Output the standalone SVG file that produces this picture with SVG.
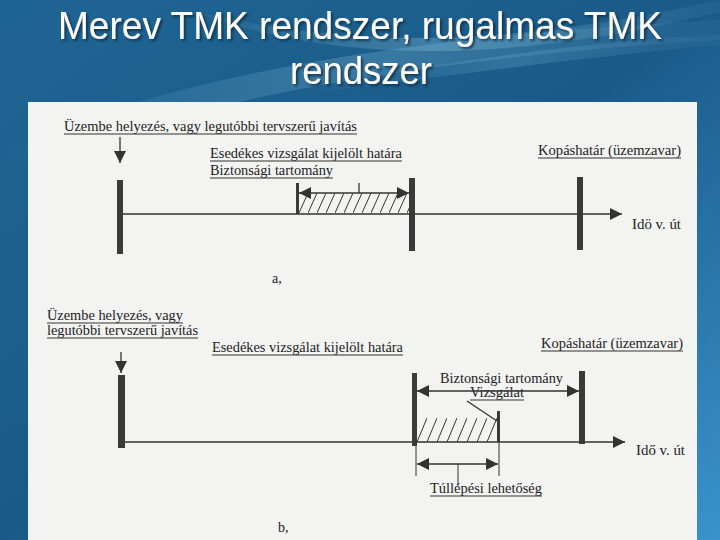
<svg xmlns="http://www.w3.org/2000/svg" width="720" height="540" viewBox="0 0 720 540">
<defs>
<linearGradient id="bg" x1="0" y1="0" x2="1" y2="1">
<stop offset="0" stop-color="#1f6593"/>
<stop offset="0.5" stop-color="#1a5a88"/>
<stop offset="1" stop-color="#3a93cc"/>
</linearGradient>
<linearGradient id="sw" x1="0" y1="0" x2="1" y2="0">
<stop offset="0" stop-color="#9fd8ef" stop-opacity="0"/>
<stop offset="0.5" stop-color="#9fd8ef" stop-opacity="0.45"/>
<stop offset="1" stop-color="#9fd8ef" stop-opacity="0.1"/>
</linearGradient>
<filter id="ts" x="-5%" y="-20%" width="110%" height="150%">
<feDropShadow dx="2" dy="2" stdDeviation="1.2" flood-color="#0b2a40" flood-opacity="0.8"/>
</filter>
<pattern id="hatchA" patternUnits="userSpaceOnUse" width="9" height="20" x="299" y="193">
<line x1="0" y1="20" x2="9" y2="0" stroke="#333" stroke-width="1"/>
</pattern>
<pattern id="hatchB" patternUnits="userSpaceOnUse" width="10" height="24" x="417" y="418">
<line x1="0" y1="24" x2="10" y2="0" stroke="#333" stroke-width="1"/>
</pattern>
<marker id="ah" viewBox="0 0 12 12" refX="12" refY="6" markerWidth="12" markerHeight="12" markerUnits="userSpaceOnUse" orient="auto-start-reverse">
<path d="M0,0 L12,6 L0,12 Z" fill="#333"/>
</marker>
</defs>
<style>
.t{font-family:"Liberation Serif","Times New Roman",serif;font-size:14px;fill:#222}
.u{stroke:#333;stroke-width:1}
.ln{stroke:#333;stroke-width:1.3;fill:none}
.bar{fill:#3a3a3a}
.title{font-family:"Liberation Sans",Arial,sans-serif;font-size:38px;fill:#ffffff;text-anchor:middle;filter:url(#ts)}
</style>

<!-- background -->
<rect x="0" y="0" width="720" height="540" fill="url(#bg)"/>
<path d="M0,150 C150,90 330,40 720,20 L720,40 C380,60 170,110 0,170 Z" fill="url(#sw)" opacity="0.5"/>
<path d="M150,0 C300,40 450,60 720,0 L720,12 C460,75 300,55 160,0 Z" fill="url(#sw)" opacity="0.6"/>
<path d="M300,90 C450,60 600,40 720,35 L720,45 C600,55 450,75 300,95 Z" fill="url(#sw)" opacity="0.4"/>

<!-- title -->
<g id="title">
<text class="title" x="360" y="39" textLength="604" lengthAdjust="spacingAndGlyphs">Merev TMK rendszer, rugalmas TMK</text>
<text class="title" x="361" y="84" textLength="142" lengthAdjust="spacingAndGlyphs">rendszer</text>
</g>

<!-- paper -->
<rect x="28" y="102" width="669" height="438" fill="#f3f3f2"/>

<!-- ===== diagram a ===== -->
<g id="a-label-start">
<text class="t" x="64" y="131" textLength="293" lengthAdjust="spacingAndGlyphs">Üzembe helyezés, vagy legutóbbi tervszerű javítás</text>
<line class="u" x1="64" y1="134" x2="357" y2="134"/>
</g>
<g id="a-label-due">
<text class="t" x="210" y="158" textLength="192" lengthAdjust="spacingAndGlyphs">Esedékes vizsgálat kijelölt határa</text>
<line class="u" x1="210" y1="161" x2="402" y2="161"/>
</g>
<g id="a-label-safety">
<text class="t" x="210" y="175" textLength="123" lengthAdjust="spacingAndGlyphs">Biztonsági tartomány</text>
<line class="u" x1="210" y1="178" x2="333" y2="178"/>
</g>
<g id="a-label-wear">
<text class="t" x="538" y="155" textLength="143" lengthAdjust="spacingAndGlyphs">Kopáshatár (üzemzavar)</text>
<line class="u" x1="538" y1="158" x2="681" y2="158"/>
</g>
<g id="a-label-time">
<text class="t" x="632" y="229" textLength="49" lengthAdjust="spacingAndGlyphs">Idö v. út</text>
</g>
<g id="a-caption">
<text class="t" x="272" y="283">a,</text>
</g>
<g id="a-bar-start"><rect class="bar" x="117" y="180" width="6" height="74"/></g>
<g id="a-bar-due"><rect class="bar" x="296" y="183" width="3" height="31"/></g>
<g id="a-hatch"><rect x="299" y="193" width="110" height="20" fill="url(#hatchA)"/></g>
<g id="a-bar-limit"><rect class="bar" x="409" y="178" width="6" height="73"/></g>
<g id="a-bar-wear"><rect class="bar" x="577" y="177" width="6" height="73"/></g>

<!-- ===== diagram b ===== -->
<g id="b-label-start">
<text class="t" x="47" y="320" textLength="136" lengthAdjust="spacingAndGlyphs">Üzembe helyezés, vagy</text>
<line class="u" x1="47" y1="323" x2="183" y2="323"/>
<text class="t" x="47" y="335" textLength="151" lengthAdjust="spacingAndGlyphs">legutóbbi tervszerű javítás</text>
<line class="u" x1="47" y1="338" x2="198" y2="338"/>
</g>
<g id="b-label-due">
<text class="t" x="212" y="352" textLength="191" lengthAdjust="spacingAndGlyphs">Esedékes vizsgálat kijelölt határa</text>
<line class="u" x1="212" y1="355" x2="403" y2="355"/>
</g>
<g id="b-label-wear">
<text class="t" x="541" y="348" textLength="142" lengthAdjust="spacingAndGlyphs">Kopáshatár (üzemzavar)</text>
<line class="u" x1="541" y1="351" x2="683" y2="351"/>
</g>
<g id="b-label-safety">
<text class="t" x="440" y="383" textLength="123" lengthAdjust="spacingAndGlyphs">Biztonsági tartomány</text>
</g>
<g id="b-label-insp">
<text class="t" x="470" y="397" textLength="54" lengthAdjust="spacingAndGlyphs">Vizsgálat</text>
<line class="u" x1="470" y1="400" x2="524" y2="400"/>
</g>
<g id="b-label-over">
<text class="t" x="430" y="493" textLength="112" lengthAdjust="spacingAndGlyphs">Túllépési lehetőség</text>
<line class="u" x1="430" y1="496" x2="542" y2="496"/>
</g>
<g id="b-label-time">
<text class="t" x="636" y="455" textLength="49" lengthAdjust="spacingAndGlyphs">Idő v. út</text>
</g>
<g id="b-caption">
<text class="t" x="278" y="532">b,</text>
</g>
<g id="b-bar-start"><rect class="bar" x="118" y="375" width="7" height="73"/></g>
<g id="b-bar-due"><rect class="bar" x="412" y="373" width="5" height="73"/></g>
<g id="b-hatch"><rect x="417" y="418" width="81" height="24" fill="url(#hatchB)"/></g>
<g id="b-bar-insp"><rect class="bar" x="497" y="411" width="3" height="31"/></g>
<g id="b-bar-wear"><rect class="bar" x="579" y="371" width="6" height="73"/></g>

<!-- connectors -->
<g id="connectors">
<!-- a -->
<line class="ln" x1="120" y1="137" x2="120" y2="163" marker-end="url(#ah)"/>
<line class="ln" x1="123" y1="214" x2="622" y2="214" marker-end="url(#ah)"/>
<line class="ln" x1="299" y1="193" x2="409" y2="193" marker-start="url(#ah)" marker-end="url(#ah)"/>
<line class="ln" x1="359" y1="183" x2="359" y2="193"/>
<!-- b -->
<line class="ln" x1="121" y1="352" x2="121" y2="373" marker-end="url(#ah)"/>
<line class="ln" x1="125" y1="442" x2="625" y2="442" marker-end="url(#ah)"/>
<line class="ln" x1="417" y1="391" x2="579" y2="391" marker-start="url(#ah)" marker-end="url(#ah)"/>
<line class="ln" x1="467" y1="401" x2="497" y2="421"/>
<line class="u" x1="416" y1="446" x2="416" y2="476"/>
<line class="u" x1="499" y1="442" x2="499" y2="476"/>
<line class="ln" x1="417" y1="464" x2="498" y2="464" marker-start="url(#ah)" marker-end="url(#ah)"/>
<line class="u" x1="458" y1="464" x2="458" y2="486"/>
</g>
</svg>
